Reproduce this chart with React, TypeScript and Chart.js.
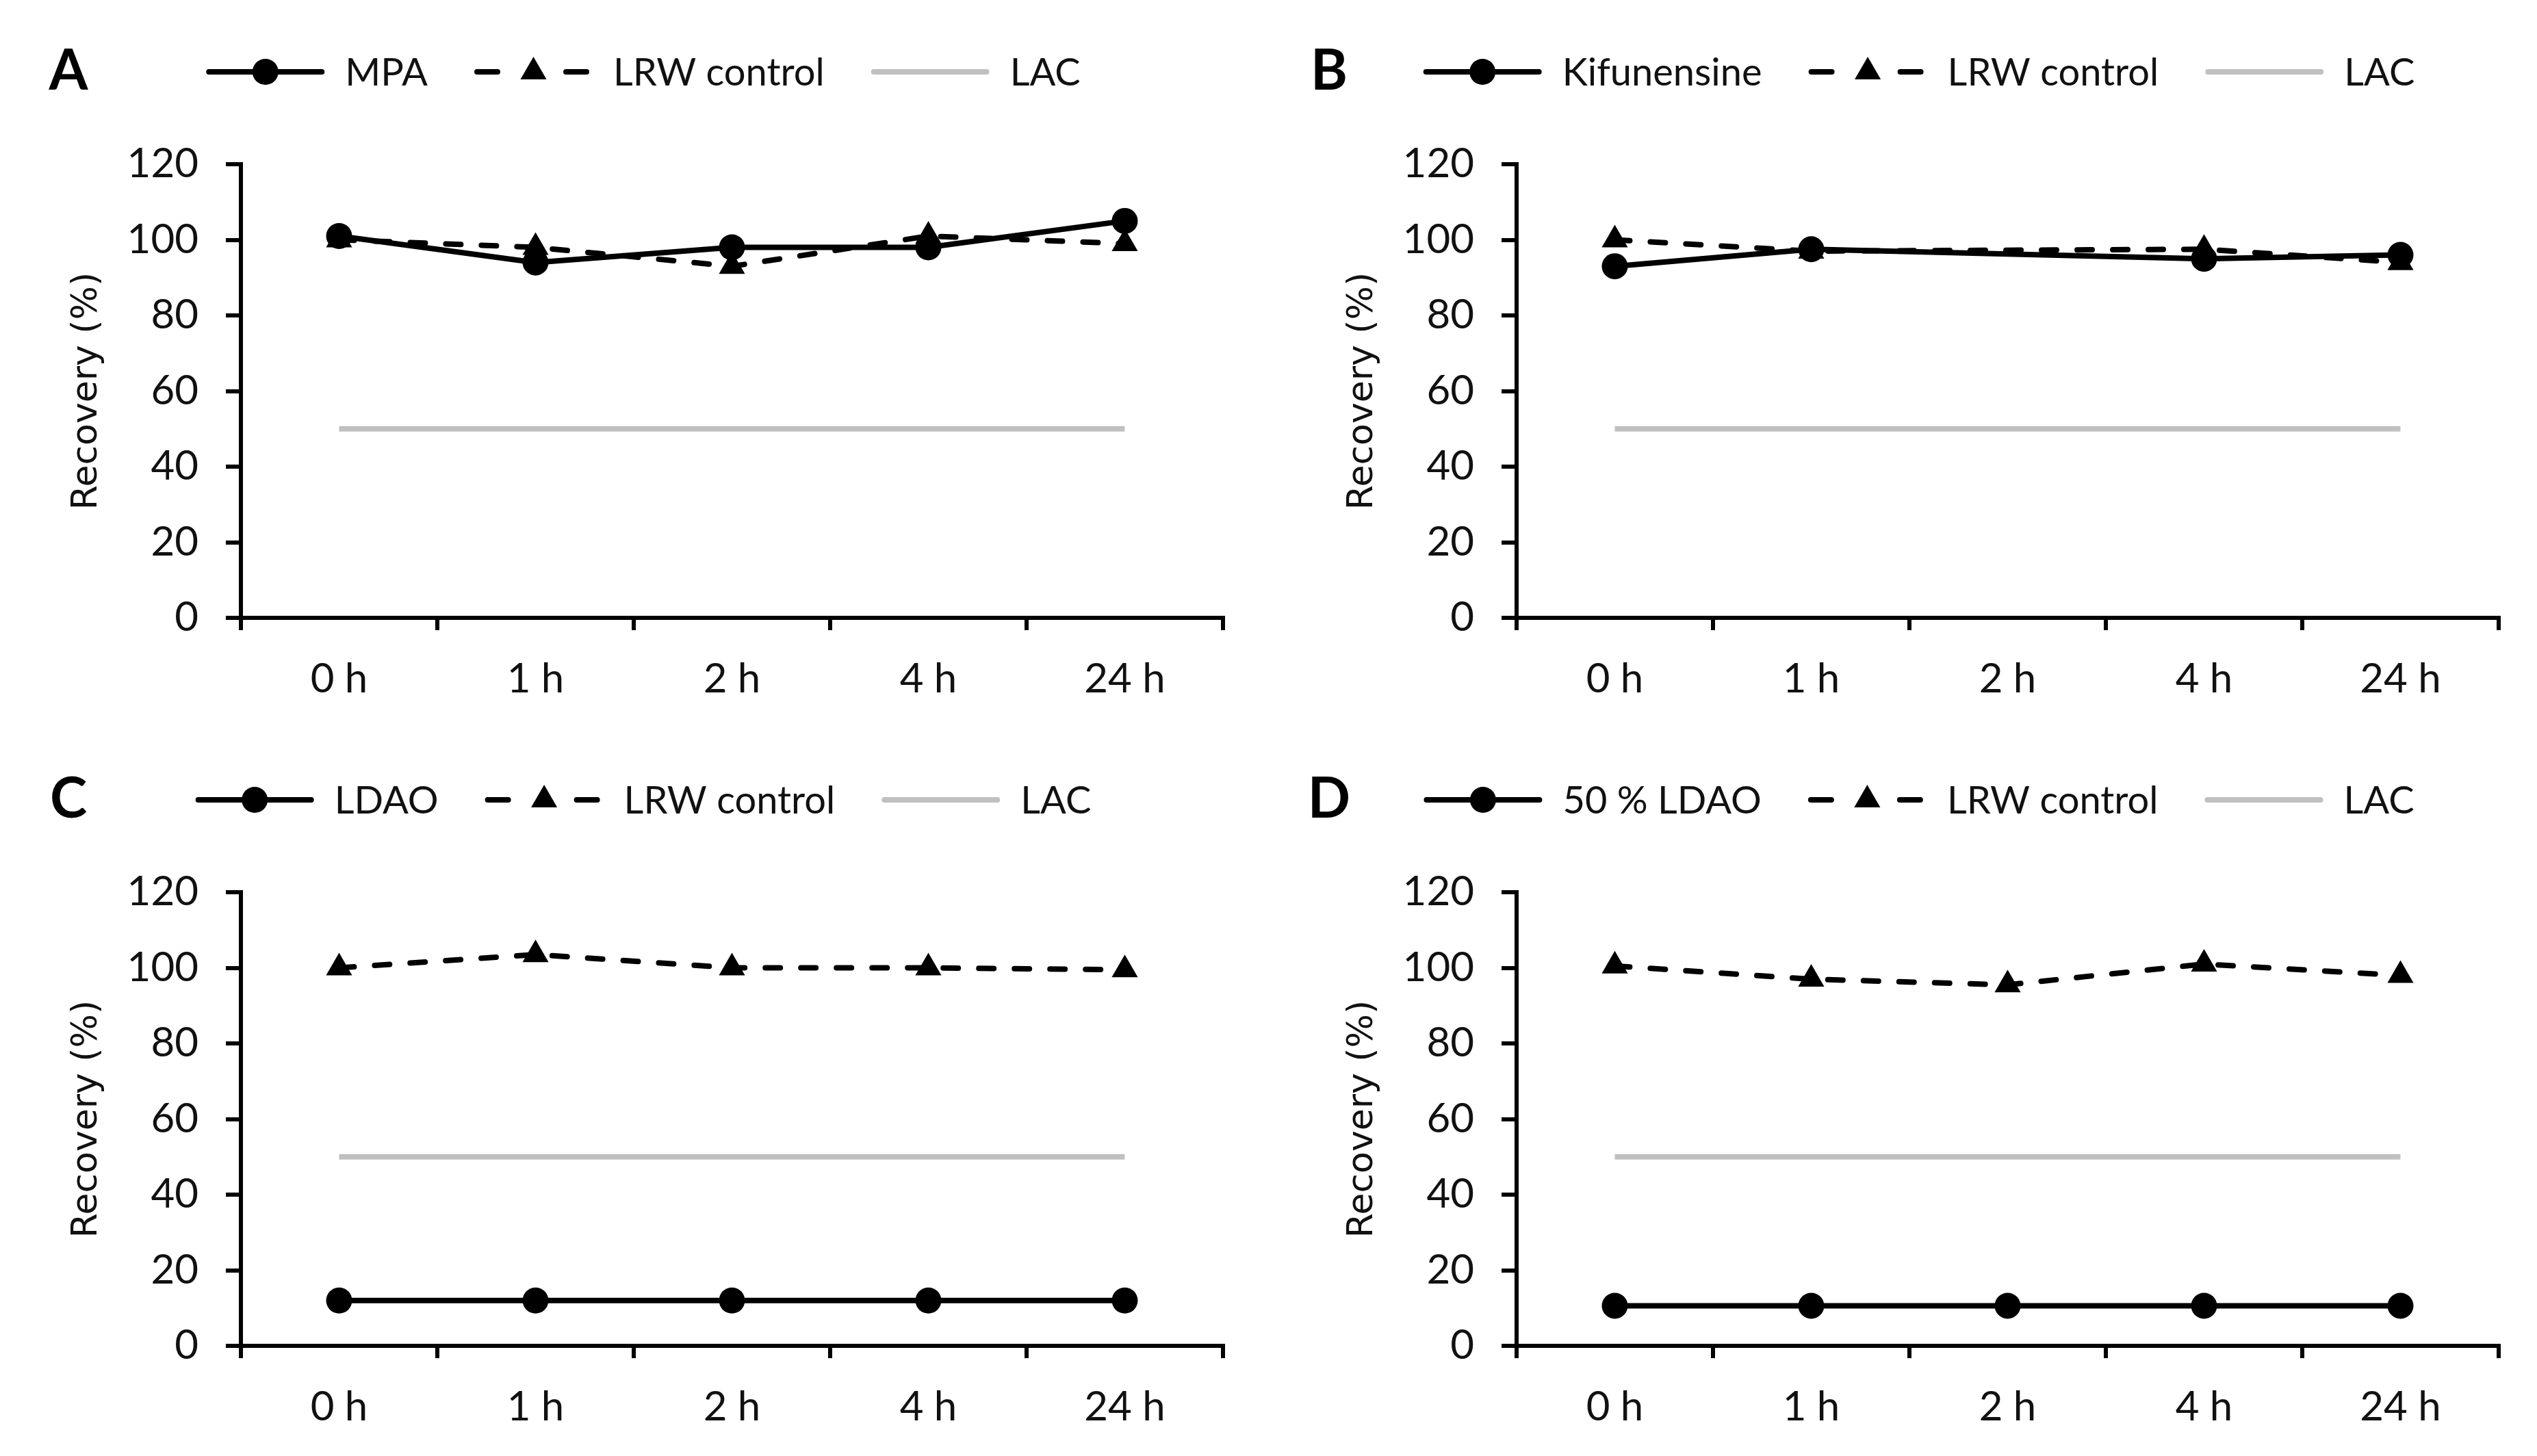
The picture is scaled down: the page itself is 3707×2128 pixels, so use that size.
import React, { useEffect, useRef } from 'react';
import { Chart, registerables } from 'chart.js';

Chart.register(...registerables);

// ---------- data ----------
const categories = ['0 h', '1 h', '2 h', '4 h', '24 h'];
const yMin = 0;
const yMax = 120;
const yStep = 20;
const yTitle = 'Recovery (%)';

const panelLetters = ['A', 'B', 'C', 'D'];
const treatmentLabels = ['MPA', 'Kifunensine', 'LDAO', '50 % LDAO'];
const controlLabel = 'LRW control';
const lacLabel = 'LAC';

const treatmentA = [101, 94, 98, 98, 105];
const controlA = [100, 98, 93, 101, 99];
const lacA = [50, 50, 50, 50, 50];

const treatmentB = [93, 97.5, null, 95, 96];
const controlB = [100, 97, null, 97.5, 94];
const lacB = [50, 50, 50, 50, 50];

const treatmentC = [12, 12, 12, 12, 12];
const controlC = [100, 103.5, 100, 100, 99.5];
const lacC = [50, 50, 50, 50, 50];

const treatmentD = [10.6, 10.6, 10.6, 10.6, 10.6];
const controlD = [100.5, 97, 95.5, 101, 98];
const lacD = [50, 50, 50, 50, 50];

const treatmentSeries = [treatmentA, treatmentB, treatmentC, treatmentD];
const controlSeries = [controlA, controlB, controlC, controlD];
const lacSeries = [lacA, lacB, lacC, lacD];

// ---------- layout / style ----------
const CANVAS_W = 1835;
const CANVAS_H = 1060;
const panelPos = [
  { left: 0, top: 0, letterX: 100 },
  { left: 1864, top: 0, letterX: 78 },
  { left: 0, top: 1064, letterX: 100 },
  { left: 1864, top: 1064, letterX: 78 },
];
const TEXT_FONT = 'Lato, "Open Sans", sans-serif';
const TITLE_FONT = '"DejaVu Sans", Verdana, sans-serif';

function drawMarker(ctx: CanvasRenderingContext2D, style: string, x: number, y: number, r: number) {
  ctx.beginPath();
  if (style === 'triangle') {
    let rad = 0;
    const step = (2 * Math.PI) / 3;
    ctx.moveTo(x + Math.sin(rad) * r, y - Math.cos(rad) * r);
    rad += step;
    ctx.lineTo(x + Math.sin(rad) * r, y - Math.cos(rad) * r);
    rad += step;
    ctx.lineTo(x + Math.sin(rad) * r, y - Math.cos(rad) * r);
    ctx.closePath();
  } else {
    ctx.arc(x, y, r, 0, Math.PI * 2);
  }
  ctx.fill();
}

const panelDecor = {
  id: 'panelDecor',
  afterDraw(chart: any, _args: any, opts: any) {
    const ctx: CanvasRenderingContext2D = chart.ctx;
    ctx.save();
    // panel letter
    ctx.fillStyle = '#000';
    ctx.font = `bold ${opts.letterSize}px ${TEXT_FONT}`;
    ctx.textAlign = 'center';
    ctx.textBaseline = 'middle';
    ctx.fillText(opts.letter, opts.letterX, opts.y);

    // legend
    ctx.font = `${opts.fontSize}px ${TEXT_FONT}`;
    const items = chart.data.datasets.map((ds: any) => ({ ds, w: ctx.measureText(ds.label).width }));
    const total =
      items.reduce((s: number, it: any) => s + opts.sample + opts.gap + it.w, 0) +
      opts.itemGap * (items.length - 1);
    let x = opts.centerX - total / 2;
    const y = opts.y;
    items.forEach((it: any) => {
      const ds = it.ds;
      ctx.save();
      ctx.strokeStyle = ds.borderColor;
      ctx.lineWidth = ds.borderWidth;
      ctx.lineCap = ds.legendCap || 'butt';
      ctx.setLineDash(ds.legendDash || []);
      ctx.beginPath();
      ctx.moveTo(x, y);
      ctx.lineTo(x + opts.sample, y);
      ctx.stroke();
      ctx.restore();
      if (ds.pointRadius > 0) {
        ctx.fillStyle = ds.pointBackgroundColor || ds.borderColor;
        drawMarker(ctx, ds.pointStyle, x + opts.sample / 2, y, ds.pointRadius);
      }
      ctx.fillStyle = '#111';
      ctx.textAlign = 'left';
      ctx.textBaseline = 'middle';
      ctx.fillText(ds.label, x + opts.sample + opts.gap, y + 2);
      x += opts.sample + opts.gap + it.w + opts.itemGap;
    });
    ctx.restore();
  },
};

function makeConfig(i: number): any {
  return {
    type: 'line',
    data: {
      labels: categories,
      datasets: [
        {
          label: treatmentLabels[i],
          data: treatmentSeries[i],
          borderColor: '#000',
          backgroundColor: '#000',
          pointBackgroundColor: '#000',
          pointBorderColor: '#000',
          borderWidth: 8,
          pointStyle: 'circle',
          pointRadius: 19,
          pointBorderWidth: 0,
          tension: 0,
          spanGaps: true,
          legendCap: 'round',
        },
        {
          label: controlLabel,
          data: controlSeries[i],
          borderColor: '#000',
          backgroundColor: '#000',
          pointBackgroundColor: '#000',
          pointBorderColor: '#000',
          borderWidth: 8,
          borderDash: [22, 30],
          borderCapStyle: 'round',
          pointStyle: 'triangle',
          pointRadius: 22,
          pointBorderWidth: 0,
          tension: 0,
          spanGaps: true,
          legendDash: [30, 100],
          legendCap: 'round',
        },
        {
          label: lacLabel,
          data: lacSeries[i],
          borderColor: '#c0c0c0',
          backgroundColor: '#c0c0c0',
          borderWidth: 8,
          pointRadius: 0,
          tension: 0,
          spanGaps: true,
          legendCap: 'round',
        },
      ],
    },
    options: {
      animation: false,
      responsive: false,
      devicePixelRatio: 1,
      events: [],
      layout: { padding: { left: 0, right: 48, top: 240, bottom: 0 } },
      plugins: {
        legend: { display: false },
        tooltip: { enabled: false },
        title: { display: false },
        panelDecor: {
          letter: panelLetters[i],
          letterX: panelPos[i].letterX,
          letterSize: 82,
          y: 105,
          centerX: 942,
          fontSize: 56,
          sample: 165,
          gap: 34,
          itemGap: 72,
        },
      },
      scales: {
        x: {
          type: 'category',
          offset: true,
          grid: {
            offset: true,
            drawOnChartArea: false,
            drawTicks: true,
            tickLength: 18,
            color: '#000',
            lineWidth: 6,
          },
          border: { display: true, color: '#000', width: 6 },
          ticks: {
            font: { family: TEXT_FONT, size: 60 },
            color: '#111',
            padding: 36,
            maxRotation: 0,
            autoSkip: false,
          },
          afterFit: (s: any) => {
            s.height = 157;
          },
        },
        y: {
          min: yMin,
          max: yMax,
          grid: {
            drawOnChartArea: false,
            drawTicks: true,
            tickLength: 22,
            color: '#000',
            lineWidth: 6,
          },
          border: { display: true, color: '#000', width: 6 },
          ticks: {
            stepSize: yStep,
            font: { family: TEXT_FONT, size: 60 },
            color: '#111',
            padding: 40,
          },
          title: {
            display: true,
            text: yTitle,
            font: { family: TITLE_FONT, size: 52 },
            color: '#111',
            padding: { top: 96, bottom: 0 },
          },
          afterFit: (s: any) => {
            s.width = 352;
          },
        },
      },
    },
    plugins: [panelDecor],
  };
}

function Panel({ index }: { index: number }) {
  const ref = useRef<HTMLCanvasElement | null>(null);
  useEffect(() => {
    if (!ref.current) return;
    const chart = new Chart(ref.current, makeConfig(index));
    return () => chart.destroy();
  }, [index]);
  const p = panelPos[index];
  return (
    <canvas
      ref={ref}
      width={CANVAS_W}
      height={CANVAS_H}
      style={{ position: 'absolute', left: p.left, top: p.top, width: CANVAS_W, height: CANVAS_H }}
    />
  );
}

export default function App() {
  return (
    <div
      style={{
        position: 'absolute',
        left: 0,
        top: 0,
        width: 3707,
        height: 2128,
        background: '#fff',
        overflow: 'hidden',
      }}
    >
      {[0, 1, 2, 3].map((i) => (
        <Panel key={i} index={i} />
      ))}
    </div>
  );
}
